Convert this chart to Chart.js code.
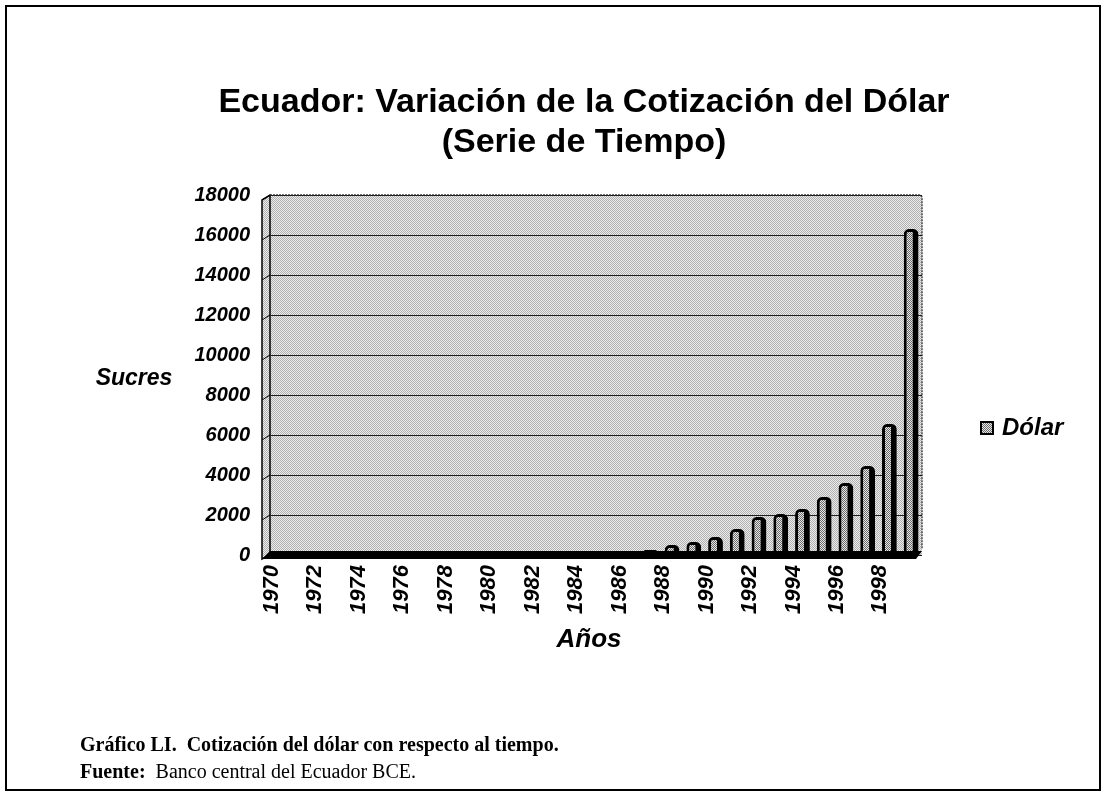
<!DOCTYPE html>
<html>
<head>
<meta charset="utf-8">
<title>Ecuador: Variación de la Cotización del Dólar</title>
<script src="https://cdn.jsdelivr.net/npm/chart.js@4.4.0/dist/chart.umd.min.js"></script>
<style>
  html, body { margin: 0; padding: 0; background: #fff; }
  #page { position: relative; width: 1107px; height: 797px; overflow: hidden; background: #fff; }
  #frame { position: absolute; left: 5px; top: 5px; width: 1096px; height: 786px; border: 2px solid #000; box-sizing: border-box; pointer-events: none; }
  #chart { position: absolute; left: 0; top: 0; }
  .cap { position: absolute; left: 80px; font-family: "Liberation Serif", "Times New Roman", serif; font-size: 20px; line-height: 24px; color: #000; white-space: nowrap; }
</style>
</head>
<body>
<div id="page">
  <canvas id="chart" width="1107" height="797"></canvas>
  <div id="frame"></div>
  <div class="cap" style="top:732px"><b>Gráfico LI.&nbsp; Cotización del dólar con respecto al tiempo.</b></div>
  <div class="cap" style="top:759px"><b>Fuente:</b>&nbsp; Banco central del Ecuador BCE.</div>
</div>
<script>
// Sucres per US dollar, year by year
const years = ['1970','1971','1972','1973','1974','1975','1976','1977','1978','1979',
               '1980','1981','1982','1983','1984','1985','1986','1987','1988','1989',
               '1990','1991','1992','1993','1994','1995','1996','1997','1998','1999'];
const dolar = [25, 25, 25, 25, 25, 25, 25, 25, 25, 25,
               25, 25, 33, 44, 63, 70, 120, 250, 500, 650,
               900, 1300, 1900, 2050, 2300, 2900, 3600, 4450, 6550, 16300];
// only every second year is labelled on the axis
const yearTicks = ['1970','1972','1974','1976','1978','1980','1982','1984',
                   '1986','1988','1990','1992','1994','1996','1998'];
const yMax = 18000;
const yStep = 2000;

const titleLines = ['Ecuador: Variación de la Cotización del Dólar', '(Serie de Tiempo)'];
const yTitle = 'Sucres';
const xTitle = 'Años';
const seriesName = 'Dólar';

const SANS = '"Liberation Sans", Arial, sans-serif';

// halftone-like fills
function halftone(cells) {
  const size = cells.length;
  const c = document.createElement('canvas');
  c.width = size; c.height = size;
  const g = c.getContext('2d');
  for (let y = 0; y < size; y++) {
    for (let x = 0; x < size; x++) {
      g.fillStyle = cells[y][x];
      g.fillRect(x, y, 1, 1);
    }
  }
  return g.createPattern(c, 'repeat');
}
const ctx0 = document.getElementById('chart').getContext('2d');
const wallFill = halftone([
  ['#b0b0b0', '#ececec'],
  ['#ececec', '#b0b0b0']
]);
const barFill = halftone([
  ['#6a6a6a', '#e8e8e8'],
  ['#e8e8e8', '#6a6a6a']
]);

const decor = {
  id: 'decor',
  beforeDraw(chart) {
    const { ctx, chartArea: a } = chart;
    ctx.save();
    // back wall
    ctx.fillStyle = wallFill;
    ctx.fillRect(a.left, a.top, a.right - a.left, a.bottom - a.top);
    // side wall strip
    ctx.beginPath();
    ctx.moveTo(a.left - 8, a.top + 5);
    ctx.lineTo(a.left, a.top);
    ctx.lineTo(a.left, a.bottom);
    ctx.lineTo(a.left - 8, a.bottom + 4);
    ctx.closePath();
    ctx.fill();
    ctx.strokeStyle = '#000';
    ctx.lineWidth = 1.5;
    ctx.stroke();
    // grid stubs on the side wall
    const ys = chart.scales.y;
    ctx.lineWidth = 1;
    for (let v = yStep; v <= yMax; v += yStep) {
      const py = ys.getPixelForValue(v);
      ctx.beginPath();
      ctx.moveTo(a.left - 8, py + 5);
      ctx.lineTo(a.left, py);
      ctx.stroke();
    }
    // dotted top and right edges of the back wall
    ctx.setLineDash([2, 1]);
    ctx.strokeStyle = '#444';
    ctx.lineWidth = 1.5;
    ctx.beginPath();
    ctx.moveTo(a.left, a.top);
    ctx.lineTo(a.right - 3, a.top);
    ctx.quadraticCurveTo(a.right, a.top, a.right, a.top + 3);
    ctx.lineTo(a.right, a.bottom - 6);
    ctx.stroke();
    ctx.restore();
  },
  afterDatasetsDraw(chart) {
    const { ctx, chartArea: a } = chart;
    ctx.save();
    // floor
    ctx.fillStyle = '#000';
    ctx.beginPath();
    ctx.moveTo(a.left, a.bottom - 4);
    ctx.lineTo(a.right, a.bottom - 4);
    ctx.lineTo(a.right - 6, a.bottom + 4);
    ctx.lineTo(a.left - 8, a.bottom + 4);
    ctx.closePath();
    ctx.fill();
    ctx.restore();
  },
  afterDraw(chart) {
    const { ctx, chartArea: a } = chart;
    ctx.save();
    ctx.fillStyle = '#000';
    ctx.textBaseline = 'alphabetic';
    // title
    ctx.textAlign = 'center';
    ctx.font = 'bold 34px ' + SANS;
    ctx.fillText(titleLines[0], 584, 112);
    ctx.fillText(titleLines[1], 584, 152);
    // axis titles
    ctx.font = 'italic bold 23px ' + SANS;
    ctx.textAlign = 'center';
    ctx.textBaseline = 'middle';
    ctx.fillText(yTitle, 134, 379);
    ctx.font = 'italic bold 26px ' + SANS;
    ctx.fillText(xTitle, 589, 640);
    // legend
    const lx = a.right + 59, ly = 428;
    ctx.fillStyle = barFill;
    ctx.fillRect(lx, ly - 6, 12, 12);
    ctx.strokeStyle = '#000';
    ctx.lineWidth = 2;
    ctx.strokeRect(lx, ly - 6, 12, 12);
    ctx.fillStyle = '#000';
    ctx.textAlign = 'left';
    ctx.font = 'italic bold 24px ' + SANS;
    ctx.fillText(chart.data.datasets[0].label, lx + 21, ly);
    ctx.restore();
  }
};

new Chart(ctx0, {
  type: 'bar',
  data: {
    labels: years,
    datasets: [{
      label: seriesName,
      data: dolar,
      backgroundColor: barFill,
      borderColor: '#000',
      borderWidth: { top: 3, left: 3, right: 6, bottom: 0 },
      borderRadius: { topLeft: 5, topRight: 5, bottomLeft: 0, bottomRight: 0 },
      borderSkipped: 'start',
      barPercentage: 0.68,
      categoryPercentage: 1.0
    }]
  },
  options: {
    responsive: false,
    animation: false,
    layout: { padding: { left: 0, right: 185, top: 195, bottom: 141 } },
    plugins: {
      legend: { display: false },
      title: { display: false },
      tooltip: { enabled: false }
    },
    scales: {
      x: {
        afterFit(s) { s.height = 101; },
        grid: { display: false, drawTicks: false },
        border: { display: false },
        ticks: {
          autoSkip: false,
          minRotation: 90,
          maxRotation: 90,
          padding: 10,
          labelOffset: -9,
          color: '#000',
          font: { family: SANS, size: 22, style: 'italic', weight: 'bold' },
          callback(v, i) { return yearTicks.includes(years[i]) ? years[i] : ''; }
        },
        title: { display: false }
      },
      y: {
        min: 0,
        max: yMax,
        afterFit(s) { s.width = 270; },
        grid: { color: '#1e1e1e', lineWidth: 1, drawTicks: false },
        border: { display: false },
        ticks: {
          stepSize: yStep,
          padding: 20,
          color: '#000',
          font: { family: SANS, size: 20, style: 'italic', weight: 'bold' },
          callback(v) { return String(v); }
        }
      }
    }
  },
  plugins: [decor]
});
</script>
</body>
</html>
